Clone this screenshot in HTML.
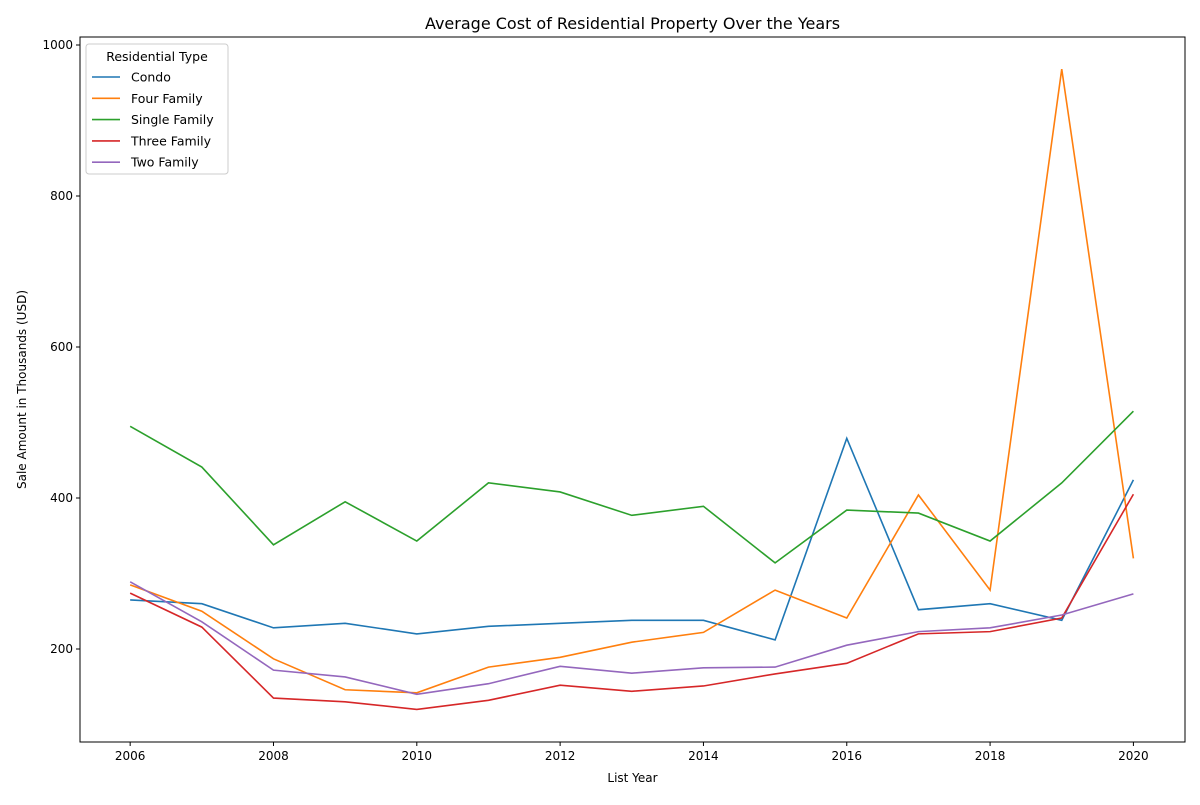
<!DOCTYPE html>
<html><head><meta charset="utf-8"><style>
body{margin:0;background:#fff;font-family:"Liberation Sans","DejaVu Sans",sans-serif}
svg text{font-family:"DejaVu Sans","Liberation Sans",sans-serif}
</style></head><body>
<svg id="c" width="1200" height="800"></svg>
<script>
const years=[2006,2007,2008,2009,2010,2011,2012,2013,2014,2015,2016,2017,2018,2019,2020];
const condo=[265,260,228,234,220,230,234,238,238,212,479,252,260,238,424];
const fourFamily=[285,250,187,146,142,176,189,209,222,278,241,404,278,968,320];
const singleFamily=[495,441,338,395,343,420,408,377,389,314,384,380,343,420,515];
const threeFamily=[274,229,135,130,120,132,152,144,151,167,181,220,223,241,405];
const twoFamily=[289,236,172,163,140,154,177,168,175,176,205,223,228,245,273];
const seriesNames=["Condo","Four Family","Single Family","Three Family","Two Family"];
const seriesData=[condo,fourFamily,singleFamily,threeFamily,twoFamily];
const colors=["#1f77b4","#ff7f0e","#2ca02c","#d62728","#9467bd"];
const xTicks=[2006,2008,2010,2012,2014,2016,2018,2020];
const yTicks=[200,400,600,800,1000];

const L=80,R=1185,T=37,B=742;
const xMin=2005.3,xMax=2020.72,yMin=76.8,yMax=1010.6;
const X=v=>L+(v-xMin)/(xMax-xMin)*(R-L);
const Y=v=>B-(v-yMin)/(yMax-yMin)*(B-T);
const svg=document.getElementById('c');
const NS='http://www.w3.org/2000/svg';
function mk(tag,attrs,parent){const e=document.createElementNS(NS,tag);for(const k in attrs)e.setAttribute(k,attrs[k]);(parent||svg).appendChild(e);return e;}

const title=mk('text',{x:(L+R)/2,y:29,'text-anchor':'middle','font-size':16,fill:'#000'});
title.textContent='Average Cost of Residential Property Over the Years';



xTicks.forEach(t=>{
  const g=mk('g',{});
  
  
  mk('line',{x1:X(t),x2:X(t),y1:B,y2:B+4,stroke:'#000'},g);
  const tx=mk('text',{x:X(t),y:B+18,'text-anchor':'middle','font-size':12},g);tx.textContent=t;
});
yTicks.forEach(t=>{
  const g=mk('g',{});
  
  
  mk('line',{x1:L-4,x2:L,y1:Y(t),y2:Y(t),stroke:'#000'},g);
  const tx=mk('text',{x:L-7,y:Y(t)+4,'text-anchor':'end','font-size':12},g);tx.textContent=t;
});
const xl=mk('text',{x:(L+R)/2,y:782,'text-anchor':'middle','font-size':12});xl.textContent='List Year';


const yl=mk('text',{x:0,y:0,'text-anchor':'middle','font-size':12,transform:`translate(26,${(T+B)/2}) rotate(-90)`});yl.textContent='Sale Amount in Thousands (USD)';



seriesData.forEach((d,i)=>{
  const p=mk('polyline',{points:d.map((v,j)=>X(years[j])+','+Y(v)).join(' '),fill:'none',stroke:colors[i],'stroke-width':1.6});
  
  
});
const frame=mk('rect',{x:L,y:T,width:R-L,height:B-T,fill:'none',stroke:'#000','stroke-width':1});



const lg=mk('g',{});


mk('rect',{x:86,y:44,width:142,height:130,rx:3,fill:'#fff',stroke:'#ccc'},lg);
const lt=mk('text',{x:157,y:61,'text-anchor':'middle','font-size':12.5},lg);lt.textContent='Residential Type';
seriesNames.forEach((n,i)=>{
  const e=mk('g',{},lg);
  
  
  const y=77+i*21.3;
  mk('line',{x1:92,x2:120,y1:y,y2:y,stroke:colors[i],'stroke-width':1.6},e);
  const t=mk('text',{x:131,y:y+4.5,'font-size':12.5},e);t.textContent=n;
});
</script>
</body></html>
